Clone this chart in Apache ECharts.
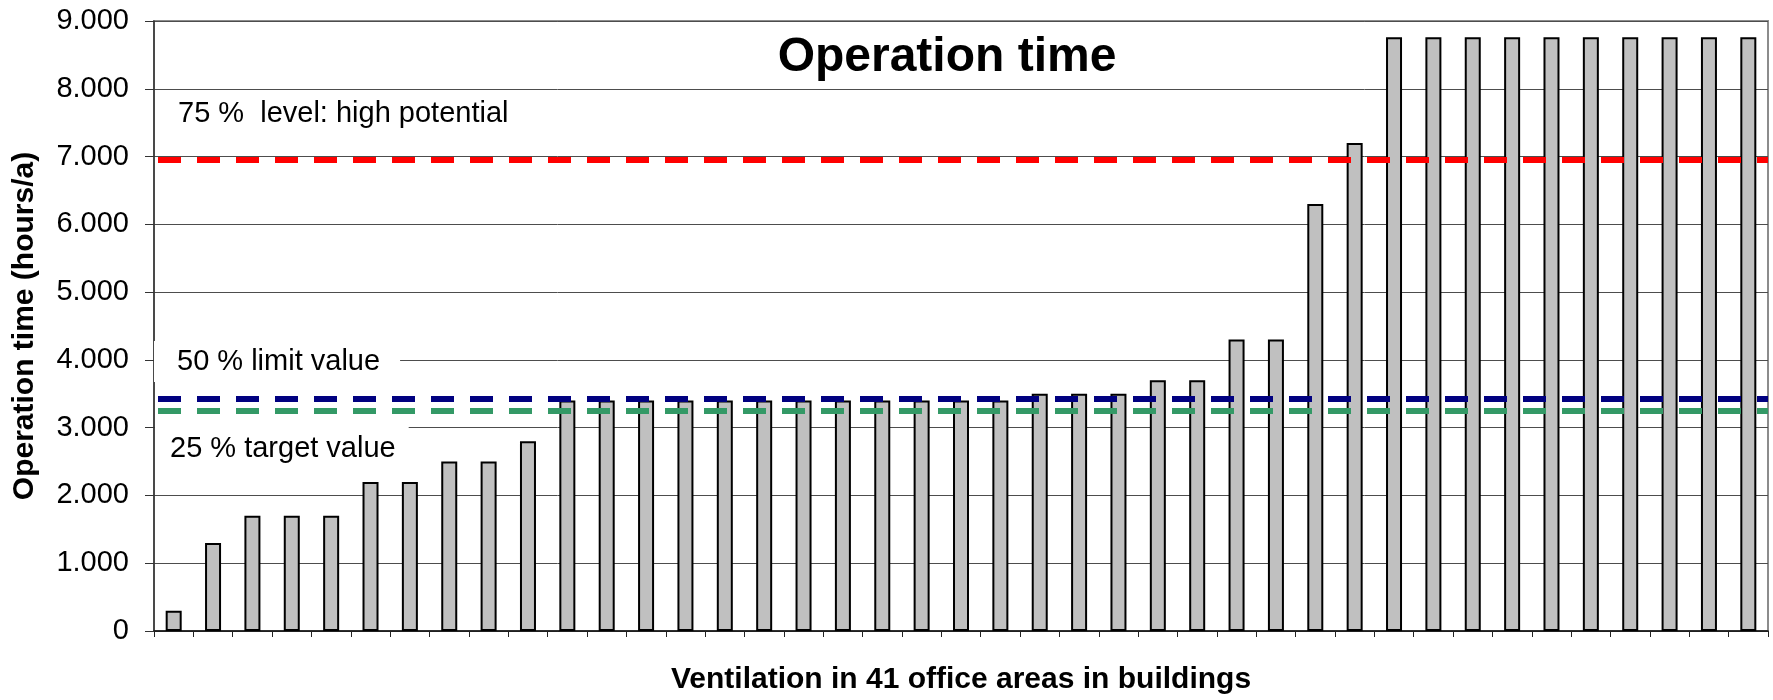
<!DOCTYPE html>
<html><head><meta charset="utf-8">
<script src="https://cdn.jsdelivr.net/npm/echarts@6/dist/echarts.min.js"></script>
<style>html,body{margin:0;padding:0;background:#fff}#c{width:1773px;height:700px}</style>
</head><body><div id="c"></div>
<script>
// ---- data ----
const categories = ['1','2','3','4','5','6','7','8','9','10','11','12','13','14','15','16','17','18','19','20','21','22','23','24','25','26','27','28','29','30','31','32','33','34','35','36','37','38','39','40','41'];
const operationHours = [300,1300,1700,1700,1700,2200,2200,2500,2500,2800,
  3400,3400,3400,3400,3400,3400,3400,3400,3400,3400,3400,3400,
  3500,3500,3500,3700,3700,4300,4300,6300,7200,
  8760,8760,8760,8760,8760,8760,8760,8760,8760,8760];
const levelNames = ['75 % level', '50 % level', '25 % level'];
const levelValues = [6950, 3420, 3250];
const levelColors = ['#FF0000', '#000080', '#339966'];
const annotationTexts = ['75 %  level: high potential', '50 % limit value', '25 % target value'];
const yMin = 0, yMax = 9000, yStep = 1000;
const chartTitle = 'Operation time';
const xTitle = 'Ventilation in 41 office areas in buildings';
const yTitle = 'Operation time (hours/a)';

// ---- chart ----
const FONT = "'Liberation Sans', Arial, Helvetica, sans-serif";
const fmt = v => String(v).replace(/\B(?=(\d{3})+(?!\d))/g, '.');
const chart = echarts.init(document.getElementById('c'), null, {renderer: 'canvas'});
const option = {
  animation: false,
  backgroundColor: '#fff',
  grid: {left: 154, right: 5, top: 21, bottom: 65, show: true, borderColor: '#8c8c8c', borderWidth: 2, backgroundColor: 'transparent'},
  xAxis: {
    type: 'category', data: categories, boundaryGap: true,
    axisLine: {show: true, lineStyle: {color: '#111', width: 1.5}},
    axisTick: {show: true, length: 6, lineStyle: {color: '#222', width: 1}},
    axisLabel: {show: false},
    splitLine: {show: false},
    name: xTitle, nameLocation: 'middle', nameGap: 34,
    nameTextStyle: {fontSize: 30, fontWeight: 'bold', color: '#000', fontFamily: FONT}
  },
  yAxis: {
    type: 'value', min: yMin, max: yMax, interval: yStep,
    axisLine: {show: true, lineStyle: {color: '#333', width: 1.5}},
    axisTick: {show: true, length: 9, lineStyle: {color: '#333', width: 1}},
    axisLabel: {formatter: fmt, fontSize: 29, color: '#000', margin: 25, fontFamily: FONT},
    splitLine: {show: true, lineStyle: {color: '#4d4d4d', width: 1}},
    name: yTitle, nameLocation: 'middle', nameGap: 114,
    nameTextStyle: {fontSize: 30, fontWeight: 'bold', color: '#000', fontFamily: FONT}
  },
  series: [{
    type: 'bar', data: operationHours, barWidth: 16,
    itemStyle: {color: '#C0C0C0', borderColor: '#000', borderWidth: 2},
    markLine: {
      silent: true, symbol: ['none', 'none'], label: {show: false}, animation: false,
      data: levelValues.map((v, i) => ({
        name: levelNames[i], yAxis: v,
        lineStyle: {color: levelColors[i], width: 6, type: [23, 16], dashOffset: 35, opacity: 1}
      }))
    }
  }],
  graphic: [
    {type: 'text', z: 100, x: 947, y: 58, style: {text: chartTitle, font: `bold 48px ${FONT}`, fill: '#000', textAlign: 'center', textVerticalAlign: 'middle'}},
    {type: 'text', z: 100, x: 178, y: 114, style: {text: annotationTexts[0], font: `29px ${FONT}`, fill: '#000', textAlign: 'left', textVerticalAlign: 'middle'}},
    {type: 'text', z: 100, x: 154, y: 341, style: {text: annotationTexts[1], font: `29px ${FONT}`, fill: '#000', textAlign: 'left', textVerticalAlign: 'top', backgroundColor: '#fff', padding: [6, 20, 6, 23]}},
    {type: 'text', z: 100, x: 155, y: 424, style: {text: annotationTexts[2], font: `29px ${FONT}`, fill: '#000', textAlign: 'left', textVerticalAlign: 'top', backgroundColor: '#fff', padding: [10, 13, 6, 15]}}
  ]
};
chart.setOption(option);
</script></body></html>
